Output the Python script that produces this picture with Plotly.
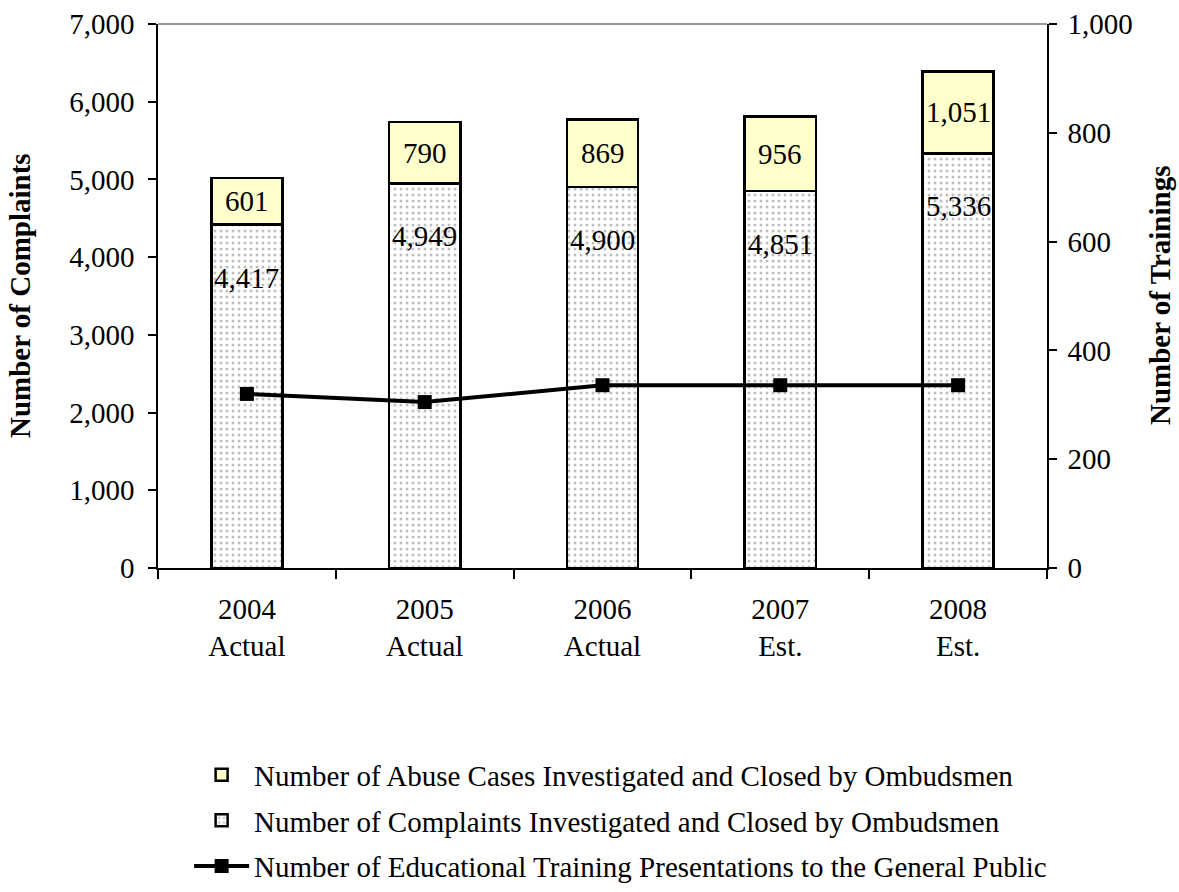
import plotly.graph_objects as go

years = ["2004<br>Actual", "2005<br>Actual", "2006<br>Actual", "2007<br>Est.", "2008<br>Est."]
complaints = [4417, 4949, 4900, 4851, 5336]
abuse = [601, 790, 869, 956, 1051]
trainings = [320, 305, 336, 336, 336]

FONT = "Liberation Serif, Times New Roman, serif"
FS = 29

fig = go.Figure()
fig.add_trace(go.Bar(
    x=years, y=complaints, name="Number of Complaints Investigated and Closed by Ombudsmen",
    marker=dict(color="white", line=dict(color="black", width=2.5),
                pattern=dict(shape=".", fgcolor="#808080", bgcolor="white", size=6, solidity=0.2)),
    width=0.4, legendrank=2, legendgroup="b",
))
fig.add_trace(go.Bar(
    x=years, y=abuse, name="Number of Abuse Cases Investigated and Closed by Ombudsmen",
    marker=dict(color="#FFFFCC", line=dict(color="black", width=2.5)),
    width=0.4, legendrank=1, legendgroup="a",
))
fig.add_trace(go.Scatter(
    x=years, y=trainings, yaxis="y2", mode="lines+markers",
    name="Number of Educational Training Presentations to the General Public",
    line=dict(color="black", width=4),
    marker=dict(symbol="square", size=14, color="black"),
    legendrank=3, legendgroup="c",
))

annotations = []
for xv, c, a in zip(years, complaints, abuse):
    annotations.append(dict(x=xv, y=c - 680, text=f"{c:,}", showarrow=False,
                            font=dict(family=FONT, size=FS, color="black"), yanchor="middle"))
    annotations.append(dict(x=xv, y=c + a / 2, text=f"{a:,}", showarrow=False,
                            font=dict(family=FONT, size=FS, color="black"), yanchor="middle"))

annotations.append(dict(xref="paper", yref="paper", x=0, y=0.5, xshift=-138, textangle=-90,
                        text="<b>Number of Complaints</b>", showarrow=False,
                        xanchor="center", yanchor="middle", font=dict(family=FONT, size=FS)))
annotations.append(dict(xref="paper", yref="paper", x=1, y=0.5, xshift=113, textangle=-90,
                        text="<b>Number of Trainings</b>", showarrow=False,
                        xanchor="center", yanchor="middle", font=dict(family=FONT, size=FS)))

fig.update_layout(
    width=1179, height=892,
    margin=dict(l=158, r=132, t=24, b=324),
    paper_bgcolor="white", plot_bgcolor="white",
    barmode="stack", bargap=0.6,
    font=dict(family=FONT, size=FS, color="black"),
    annotations=annotations,
    showlegend=True,
    legend=dict(x=0.035, xref="paper", y=0.16, yref="container", xanchor="left", yanchor="top",
                traceorder="grouped", font=dict(family=FONT, size=FS),
                itemwidth=55, tracegroupgap=5, bgcolor="rgba(0,0,0,0)"),
    xaxis=dict(showline=True, linecolor="black", linewidth=1.5, ticks="outside",
               tickson="boundaries", ticklen=9, tickcolor="black", tickwidth=1.5,
               ticklabelstandoff=14, automargin=False,
               showgrid=False, tickfont=dict(family=FONT, size=FS)),
    yaxis=dict(range=[0, 7000], dtick=1000, tickformat=",", showline=True, linecolor="black",
               linewidth=1.5, ticks="outside", ticklen=8, tickcolor="black", tickwidth=1.5,
               ticklabelstandoff=8, automargin=False,
               showgrid=False, zeroline=False, tickfont=dict(family=FONT, size=FS)),
    yaxis2=dict(range=[0, 1000], dtick=200, tickformat=",", overlaying="y", side="right",
                showline=True, linecolor="black", linewidth=1.5, ticks="outside", ticklen=8,
                tickcolor="black", tickwidth=1.5, showgrid=False, zeroline=False,
                ticklabelstandoff=5, automargin=False,
                tickfont=dict(family=FONT, size=FS)),
    shapes=[dict(type="line", xref="paper", yref="paper", x0=0, x1=1, y0=1, y1=1,
                 line=dict(color="#999999", width=2))],
)

fig.write_html("out.html")
